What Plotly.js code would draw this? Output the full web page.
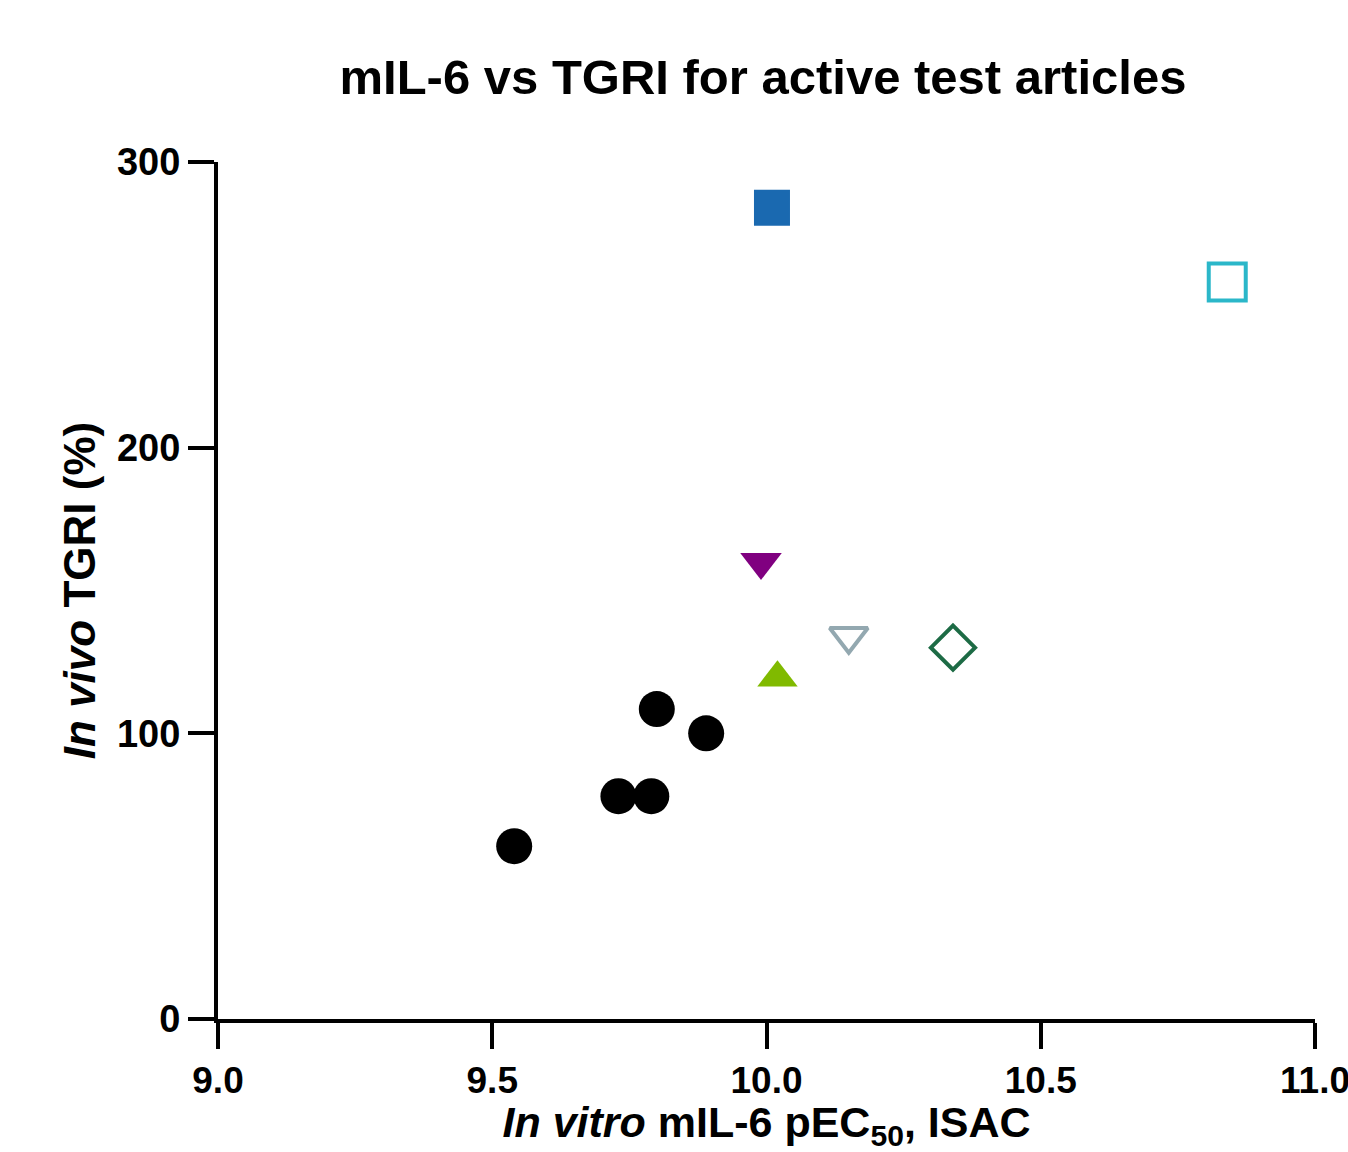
<!DOCTYPE html>
<html>
<head>
<meta charset="utf-8">
<script src="https://cdn.plot.ly/plotly-3.0.1.min.js"></script>
<style>html,body{margin:0;padding:0;background:#fff;}#chart{width:1348px;height:1152px;}</style>
</head>
<body>
<div id="chart"></div>
<script>
// Data
const seriesNames = ["circles", "blueFilledSquare", "cyanOpenSquare", "purpleDownTriangle", "grayOpenDownTriangle", "greenUpTriangle", "greenOpenDiamond"];
const circlesX = [9.54, 9.73, 9.79, 9.80, 9.89];
const circlesY = [60.5, 78, 78, 108.5, 100];
const blueSquareX = [10.01];
const blueSquareY = [284];
const cyanSquareX = [10.84];
const cyanSquareY = [258];
const purpleTriX = [9.99];
const purpleTriY = [160];
const grayTriX = [10.15];
const grayTriY = [134];
const limeTriX = [10.02];
const limeTriY = [119.5];
const diamondX = [10.34];
const diamondY = [130];
const xTickVals = [9.0, 9.5, 10.0, 10.5, 11.0];
const xTickText = ["9.0", "9.5", "10.0", "10.5", "11.0"];
const yTickVals = [0, 100, 200, 300];
const yTickText = ["0", "100", "200", "300"];

function mk(x, y, symbol, size, color, open) {
  return {
    x: x, y: y, type: "scatter", mode: "markers", showlegend: false, hoverinfo: "skip",
    marker: open
      ? {symbol: symbol, size: size, color: "rgba(0,0,0,0)", line: {color: color, width: 4}}
      : {symbol: symbol, size: size, color: color, line: {width: 0}}
  };
}

const traces = [
  mk(circlesX, circlesY, "circle", 36, "#000000", false),
  mk(blueSquareX, blueSquareY, "square", 36, "#1a69b0", false),
  mk(cyanSquareX, cyanSquareY, "square", 37, "#2bb7c9", true),
  mk(purpleTriX, purpleTriY, "triangle-down", 36, "#800080", false),
  mk(grayTriX, grayTriY, "triangle-down", 33, "#93a8b0", true),
  mk(limeTriX, limeTriY, "triangle-up", 35, "#80ba00", false),
  mk(diamondX, diamondY, "diamond", 34, "#1d6b45", true)
];

const font = "Liberation Sans, Arial, sans-serif";
const layout = {
  width: 1348, height: 1152,
  margin: {l: 218, r: 33, t: 162, b: 133},
  paper_bgcolor: "#fff", plot_bgcolor: "#fff",
  title: {text: "<b>mIL-6 vs TGRI for active test articles</b>", x: 0.566, xanchor: "center", y: 0.933, yanchor: "middle",
          font: {family: font, size: 49, color: "#000"}},
  xaxis: {
    range: [9.0, 11.0], tickvals: xTickVals, ticktext: xTickText,
    showgrid: false, zeroline: false, showline: true, linecolor: "#000", linewidth: 4,
    ticks: "outside", ticklen: 26, tickwidth: 4, tickcolor: "#000",
    ticklabeloverflow: "allow",
    tickfont: {family: font, size: 37, color: "#000", weight: "bold"},
    title: {text: "<b><i>In vitro</i> mIL-6 pEC<sub>50</sub>, ISAC</b>", font: {family: font, size: 43, color: "#000"}, standoff: 20}
  },
  yaxis: {
    range: [0, 300], tickvals: yTickVals, ticktext: yTickText,
    showgrid: false, zeroline: false, showline: true, linecolor: "#000", linewidth: 4,
    ticks: "outside", ticklen: 26, tickwidth: 4, tickcolor: "#000",
    tickfont: {family: font, size: 38, color: "#000", weight: "bold"},
    title: {text: "<b><i>In vivo</i> TGRI (%)</b>", font: {family: font, size: 44, color: "#000"}, standoff: 9}
  }
};

Plotly.newPlot("chart", traces, layout, {staticPlot: true, displayModeBar: false});
</script>
</body>
</html>
